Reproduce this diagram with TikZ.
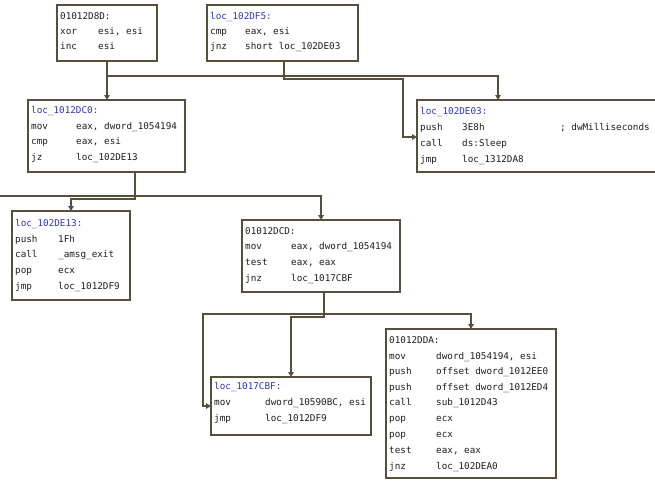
\documentclass[tikz,border=0pt]{standalone}
\usepackage{fontspec}
\setmonofont{DejaVu Sans Mono}
\usetikzlibrary{arrows.meta,calc}
\definecolor{edgec}{HTML}{55503C}
\definecolor{lblc}{HTML}{3434B0}
\definecolor{txtc}{HTML}{1E1E1E}
\tikzset{
  blk/.style={draw=edgec, line width=1.7pt, fill=white, inner sep=0pt, outer sep=0pt, anchor=north west},
  conn/.style={draw=edgec, line width=1.5pt},
  arr/.style={conn, -{Triangle[length=5pt,width=5.5pt]}},
  tx/.style={anchor=west, inner sep=0pt, text height=7pt, text depth=2pt, text=txtc, font=\ttfamily\fontsize{9.3}{11}\selectfont},
  lb/.style={tx, text=lblc},
}
\begin{document}
\begin{tikzpicture}[x=1pt,y=-1pt]
\clip (0,0) rectangle (655,487);
\fill[white] (0,0) rectangle (655,487);

% boxes
\node[blk, minimum width=100pt, minimum height=56pt] (b1) at (57,5) {};
\node[blk, minimum width=151pt, minimum height=56pt] (b2) at (207,5) {};
\node[blk, minimum width=157pt, minimum height=72pt] (b3) at (28,100) {};
\node[blk, minimum width=260pt, minimum height=72pt] (b4) at (417,100) {};
\node[blk, minimum width=118pt, minimum height=89pt] (b5) at (12,211) {};
\node[blk, minimum width=158pt, minimum height=72pt] (b6) at (242,220) {};
\node[blk, minimum width=160pt, minimum height=58pt] (b7) at (211,377) {};
\node[blk, minimum width=170pt, minimum height=149pt] (b8) at (386,329) {};

% connectors
\coordinate (j1) at (107,76);
\draw[arr] (b1.south) -- (j1) -- (b3.north -| j1);
\draw[arr] (j1) -| ($(b4.north west)+(81,0)$);
\coordinate (k0) at ($(b2.south west)+(77,0)$);
\coordinate (k1) at (403,79);
\draw[arr] (k0) |- (k1) |- ($(b4.north west)+(0,37)$);

\coordinate (j2) at ($(b3.south west)+(107,0)$);
\coordinate (j2a) at (135,199);
\coordinate (j2b) at (135,196);
\coordinate (lft) at (0,196);
\draw[arr] (j2) -- (j2a) -| (b5.north);
\draw[arr] (j2) -- (j2b) -| (b6.north);
\draw[conn] (lft) -- (j2b);

\coordinate (j3) at ($(b6.south west)+(82,0)$);
\coordinate (j3a) at (324,317);
\coordinate (j3b) at (324,314);
\coordinate (j3c) at (203,314);
\draw[arr] (j3) -- (j3a) -| (b7.north);
\draw[arr] (j3) -- (j3b) -| (b8.north);
\draw[arr] (j3b) -- (j3c) |- (b7.west);

% box 1
\node[tx] (t1a) at (60,17) {01012D8D:};
\node[tx] (t1b) at (60,32) {xor};
\node[tx] (t1c) at (98,32) {esi, esi};
\node[tx] (t1d) at (60,47) {inc};
\node[tx] (t1e) at (98,47) {esi};

% box 2
\node[lb] (t2a) at (210,17) {loc\_102DF5:};
\node[tx] (t2b) at (210,32) {cmp};
\node[tx] (t2c) at (245,32) {eax, esi};
\node[tx] (t2d) at (210,47) {jnz};
\node[tx] (t2e) at (245,47) {short loc\_102DE03};

% box 3
\node[lb] (t3a) at (31,111) {loc\_1012DC0:};
\node[tx] (t3b) at (31,127) {mov};
\node[tx] (t3c) at (76,127) {eax, dword\_1054194};
\node[tx] (t3d) at (31,142) {cmp};
\node[tx] (t3e) at (76,142) {eax, esi};
\node[tx] (t3f) at (31,158) {jz};
\node[tx] (t3g) at (76,158) {loc\_102DE13};

% box 4
\node[lb] (t4a) at (420,112) {loc\_102DE03:};
\node[tx] (t4b) at (420,128) {push};
\node[tx] (t4c) at (462,128) {3E8h};
\node[tx] (t4d) at (560,128) {; dwMilliseconds};
\node[tx] (t4e) at (420,144) {call};
\node[tx] (t4f) at (462,144) {ds:Sleep};
\node[tx] (t4g) at (420,160) {jmp};
\node[tx] (t4h) at (462,160) {loc\_1312DA8};

% box 5
\node[lb] (t5a) at (15,224) {loc\_102DE13:};
\node[tx] (t5b) at (15,240) {push};
\node[tx] (t5c) at (58,240) {1Fh};
\node[tx] (t5d) at (15,255) {call};
\node[tx] (t5e) at (58,255) {\_amsg\_exit};
\node[tx] (t5f) at (15,271) {pop};
\node[tx] (t5g) at (58,271) {ecx};
\node[tx] (t5h) at (15,287) {jmp};
\node[tx] (t5i) at (58,287) {loc\_1012DF9};

% box 6
\node[tx] (t6a) at (245,232) {01012DCD:};
\node[tx] (t6b) at (245,247) {mov};
\node[tx] (t6c) at (291,247) {eax, dword\_1054194};
\node[tx] (t6d) at (245,263) {test};
\node[tx] (t6e) at (291,263) {eax, eax};
\node[tx] (t6f) at (245,279) {jnz};
\node[tx] (t6g) at (291,279) {loc\_1017CBF};

% box 7
\node[lb] (t7a) at (214,387) {loc\_1017CBF:};
\node[tx] (t7b) at (214,403) {mov};
\node[tx] (t7c) at (265,403) {dword\_10590BC, esi};
\node[tx] (t7d) at (214,419) {jmp};
\node[tx] (t7e) at (265,419) {loc\_1012DF9};

% box 8
\node[tx] (t8a) at (389,341) {01012DDA:};
\node[tx] (t8b) at (389,357) {mov};
\node[tx] (t8c) at (436,357) {dword\_1054194, esi};
\node[tx] (t8d) at (389,372) {push};
\node[tx] (t8e) at (436,372) {offset dword\_1012EE0};
\node[tx] (t8f) at (389,388) {push};
\node[tx] (t8g) at (436,388) {offset dword\_1012ED4};
\node[tx] (t8h) at (389,403) {call};
\node[tx] (t8i) at (436,403) {sub\_1012D43};
\node[tx] (t8j) at (389,419) {pop};
\node[tx] (t8k) at (436,419) {ecx};
\node[tx] (t8l) at (389,435) {pop};
\node[tx] (t8m) at (436,435) {ecx};
\node[tx] (t8n) at (389,451) {test};
\node[tx] (t8o) at (436,451) {eax, eax};
\node[tx] (t8p) at (389,467) {jnz};
\node[tx] (t8q) at (436,467) {loc\_102DEA0};
\end{tikzpicture}
\end{document}
